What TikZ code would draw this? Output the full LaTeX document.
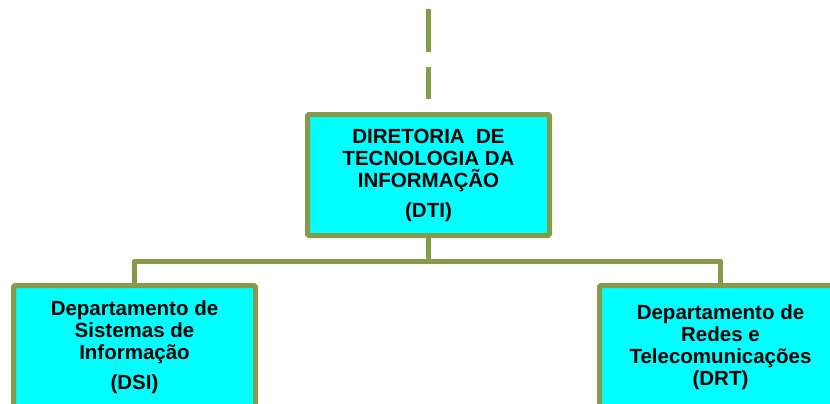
\documentclass[tikz,border=0pt]{standalone}
\usepackage{fontspec}
\setmainfont{Liberation Sans}
\definecolor{oliveline}{RGB}{134,155,74}
\definecolor{boxfill}{RGB}{0,255,255}

\begin{document}
\begin{tikzpicture}[x=1pt, y=-1pt, every node/.style={draw=oliveline, line width=5pt, fill=boxfill, rounded corners=1.5pt, inner sep=0pt, minimum width=242pt, minimum height=121pt, align=center, font=\fontsize{20.5}{22}\selectfont\bfseries}]
\clip (0,0) rectangle (830,404);
\node (DTI) at (428.5,175) {DIRETORIA\ \ DE\\TECNOLOGIA DA\\INFORMAÇÃO\\[8pt](DTI)};
\node[minimum height=123pt] (DSI) at (134.5,347) {Departamento de\\Sistemas de\\Informação\\[8pt](DSI)};
\node[minimum height=123pt] (DRT) at (720.5,347) {Departamento de\\Redes e\\Telecomunicações\\(DRT)};
\coordinate (TOP) at (428.5,9);
\coordinate (BUS) at (428.5,261);
\draw[oliveline, line width=5pt, dash pattern=on 43pt off 15pt, shorten >=13pt] (TOP) -- (DTI);
\draw[oliveline, line width=5pt, line join=round] (DTI) -- (BUS) -| (DSI);
\draw[oliveline, line width=5pt, line join=round] (BUS) -| (DRT);
\end{tikzpicture}
\end{document}
